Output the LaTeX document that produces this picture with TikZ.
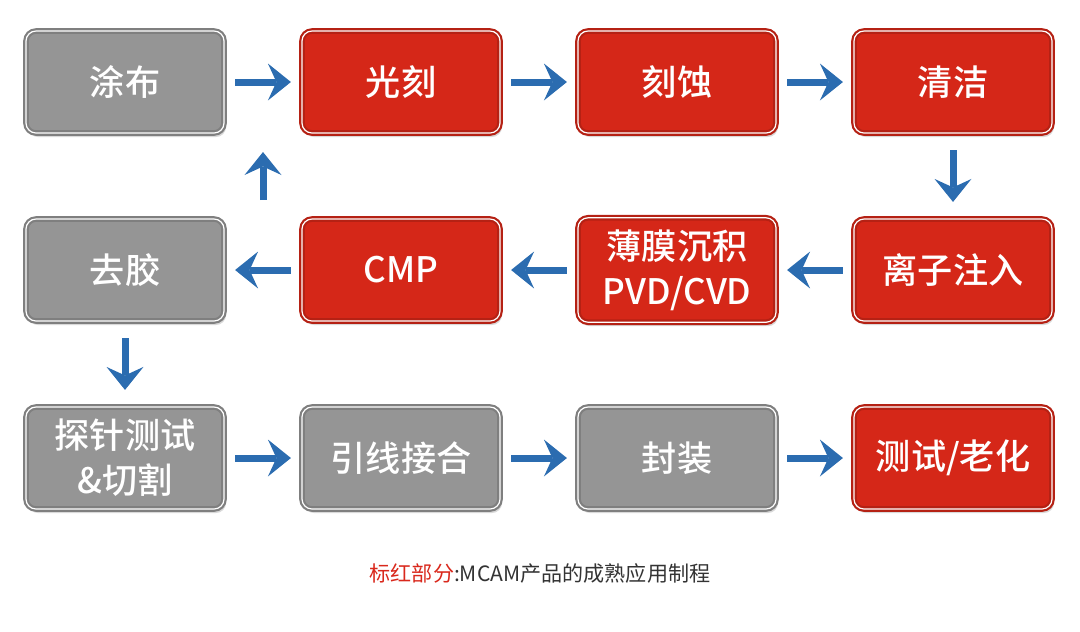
\documentclass[tikz,border=0pt]{standalone}
\usepackage{fontspec}
\newfontfamily\cjk{Noto Sans CJK SC}
\newfontfamily\cjkbold{Noto Sans CJK SC Medium}
\usetikzlibrary{positioning,arrows.meta,shadows}

\definecolor{boxgray}{HTML}{959595}
\definecolor{boxred}{HTML}{D52718}
\definecolor{flowblue}{HTML}{2B6CB0}
\definecolor{capred}{HTML}{D9281C}
\definecolor{captext}{HTML}{333333}

\tikzset{
  stepbox/.style={rectangle, rounded corners=0.1cm, minimum width=1.98cm, minimum height=1.02cm,
    fill=#1, draw=#1!85!black, line width=0.022cm, double=white, double distance=0.012cm,
    text=white, align=center, font=\cjkbold\fontsize{10}{12.8}\selectfont,
    drop shadow={shadow xshift=0.02cm, shadow yshift=-0.04cm, opacity=0.3}},
  grey/.style={stepbox=boxgray},
  red/.style={stepbox=boxred},
  flow/.style={color=flowblue, line width=0.07cm,
    -{Stealth[length=0.23cm,width=0.37cm,inset=0.085cm,line width=0pt,color=flowblue]}}
}

\begin{document}
\begin{tikzpicture}[node distance=2.76cm and 2.76cm,on grid]
      \useasboundingbox (0,0) rectangle (10.8,-6.31);
      % top row
      \node[grey] (tubu) at (1.25,-0.82) {涂布};
      \node[red] (guangke) [right=of tubu] {光刻};
      \node[red] (keshi) [right=of guangke] {刻蚀};
      \node[red] (qingjie) [right=of keshi] {清洁};
      % middle row
      \node[red] (zhuru) [below=1.88cm of qingjie] {离子注入};
      \node[red] (chenji) [left=of zhuru] {薄膜沉积\\PVD/CVD};
      \node[red] (cmp) [left=of chenji] {CMP};
      \node[grey] (qujiao) [left=of cmp] {去胶};
      % bottom row
      \node[grey] (ceshi) [below=1.88cm of qujiao] {探针测试\\\&切割};
      \node[grey] (jiehe) [right=of ceshi] {引线接合};
      \node[grey] (fengzhuang) [right=of jiehe] {封装};
      \node[red] (laohua) [right=of fengzhuang] {测试/老化};

      \coordinate (up0) at (2.63,-2.00);
      \coordinate (up1) at (2.63,-1.52);

      \path[flow,shorten <=0.1cm,shorten >=0.1cm]
      (tubu) edge (guangke)
      (guangke) edge (keshi)
      (keshi) edge (qingjie)
      (zhuru) edge (chenji)
      (chenji) edge (cmp)
      (cmp) edge (qujiao)
      (ceshi) edge (jiehe)
      (jiehe) edge (fengzhuang)
      (fengzhuang) edge (laohua);
      \path[flow,shorten <=0.16cm,shorten >=0.16cm]
      (qingjie) edge (zhuru)
      (qujiao) edge (ceshi);
      \draw[flow] (up0) -- (up1);

      \node[font=\cjk\fontsize{6}{7.5}\selectfont, text=captext] (note) at (5.40,-5.73)
        {\textcolor{capred}{标红部分}:MCAM产品的成熟应用制程};
    \end{tikzpicture}
\end{document}
